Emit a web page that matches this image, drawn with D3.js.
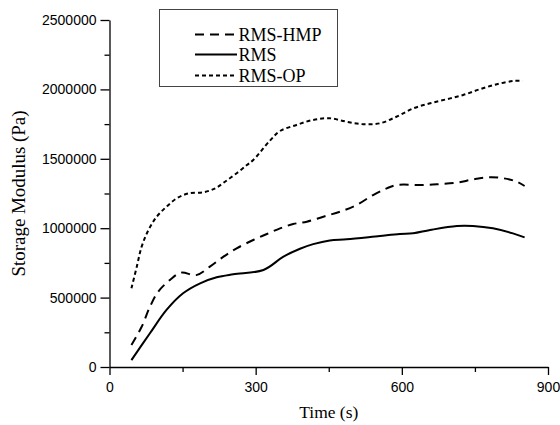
<!DOCTYPE html>
<html>
<head>
<meta charset="utf-8">
<script src="https://cdn.jsdelivr.net/npm/d3@7"></script>
<style>
  html, body { margin: 0; padding: 0; background: #fff; }
  svg { display: block; }
</style>
</head>
<body>
<svg id="chart" width="560" height="425"></svg>
<script>
// ---- data ----
const timeHMP = [45, 66, 83, 100, 124, 147, 178, 206, 234, 261, 295, 323, 350, 377, 405, 439, 473, 507, 541, 569, 589, 644, 678, 713, 747, 781, 808, 836, 852];
const rmsHMP  = [158000, 290000, 434000, 543000, 627000, 680000, 662000, 723000, 795000, 855000, 915000, 958000, 999000, 1030000, 1047000, 1083000, 1119000, 1167000, 1239000, 1287000, 1311000, 1311000, 1318000, 1328000, 1352000, 1367000, 1360000, 1335000, 1304000];

const timeRMS = [45, 83, 117, 151, 186, 220, 254, 316, 357, 391, 418, 452, 487, 555, 596, 623, 658, 713, 746, 787, 828, 852];
const rmsRMS  = [50000, 243000, 411000, 531000, 603000, 646000, 668000, 699000, 795000, 852000, 885000, 912000, 920000, 944000, 958000, 963000, 987000, 1016000, 1016000, 999000, 963000, 934000];

const timeOP = [45, 56, 66, 80, 97, 117, 138, 162, 193, 217, 237, 261, 282, 295, 329, 350, 384, 418, 452, 487, 521, 555, 589, 624, 658, 692, 726, 760, 795, 829, 848];
const rmsOP  = [567000, 723000, 867000, 987000, 1083000, 1155000, 1215000, 1251000, 1259000, 1287000, 1335000, 1396000, 1455000, 1491000, 1630000, 1700000, 1744000, 1780000, 1792000, 1767000, 1749000, 1756000, 1803000, 1864000, 1900000, 1929000, 1960000, 2001000, 2037000, 2061000, 2063000];

const seriesNames = ["RMS-HMP", "RMS", "RMS-OP"];
const xTicks = [0, 300, 600, 900];
const xMinorTicks = [150, 450, 750];
const yTicks = [0, 500000, 1000000, 1500000, 2000000, 2500000];
const yMinorTicks = [250000, 750000, 1250000, 1750000, 2250000];
const xTitle = "Time (s)";
const yTitle = "Storage Modulus (Pa)";

// ---- layout ----
const svg = d3.select("#chart");
const L = 109.5, R = 548, T = 20, B = 367;
const x = d3.scaleLinear().domain([0, 900]).range([L, R]);
const y = d3.scaleLinear().domain([0, 2500000]).range([B, T]);

const styles = [
  { dash: "9,6" },
  { dash: null },
  { dash: "4,3" }
];
const data = [
  d3.zip(timeHMP, rmsHMP),
  d3.zip(timeRMS, rmsRMS),
  d3.zip(timeOP, rmsOP)
];

// ---- axes ----
const tickFont = "'Liberation Sans', Arial, sans-serif";
const serif = "'Liberation Serif', 'Times New Roman', serif";

const xAxis = d3.axisBottom(x).tickValues(xTicks).tickSize(8).tickSizeOuter(0).tickPadding(6).tickFormat(d3.format("d"));
const gx = svg.append("g").attr("transform", `translate(0,${B})`).call(xAxis);
const xMinor = d3.axisBottom(x).tickValues(xMinorTicks).tickSize(5).tickSizeOuter(0).tickFormat("");
const gxm = svg.append("g").attr("transform", `translate(0,${B})`).call(xMinor);
gxm.select(".domain").remove();

const yAxis = d3.axisLeft(y).tickValues(yTicks).tickSize(9).tickSizeOuter(0).tickPadding(4).tickFormat(d3.format("d"));
const gy = svg.append("g").attr("transform", `translate(${L},0)`).call(yAxis);
const yMinor = d3.axisLeft(y).tickValues(yMinorTicks).tickSize(5).tickSizeOuter(0).tickFormat("");
const gym = svg.append("g").attr("transform", `translate(${L},0)`).call(yMinor);
gym.select(".domain").remove();

svg.selectAll(".domain, .tick line").attr("stroke", "#000").attr("stroke-width", 1.3);
svg.selectAll(".tick text").attr("fill", "#000").style("font-family", tickFont).style("font-size", "14px");
gx.selectAll(".tick text").attr("dy", "0.75em");

// ---- titles ----
svg.append("text")
  .attr("x", (L + R) / 2).attr("y", 418)
  .attr("text-anchor", "middle")
  .style("font-family", serif).style("font-size", "17.5px")
  .attr("textLength", 59).attr("lengthAdjust", "spacingAndGlyphs")
  .text(xTitle);

svg.append("text")
  .attr("transform", `translate(25,${(T + B) / 2}) rotate(-90)`)
  .attr("text-anchor", "middle")
  .style("font-family", serif).style("font-size", "18px")
  .attr("textLength", 166).attr("lengthAdjust", "spacingAndGlyphs")
  .text(yTitle);

// ---- lines ----
const line = d3.line().x(d => x(d[0])).y(d => y(d[1])).curve(d3.curveCatmullRom.alpha(0.5));
svg.append("g").selectAll("path").data(data).join("path")
  .attr("d", line)
  .attr("fill", "none")
  .attr("stroke", "#000")
  .attr("stroke-width", 2)
  .attr("stroke-dasharray", (d, i) => styles[i].dash);

// ---- legend ----
const lg = svg.append("g");
lg.append("rect").attr("x", 159.5).attr("y", 9.5).attr("width", 178).attr("height", 77)
  .attr("fill", "#fff").attr("stroke", "#444").attr("stroke-width", 1);
const rowY = [34.5, 54.5, 75.5];
seriesNames.forEach((name, i) => {
  lg.append("line").attr("x1", 195).attr("x2", 237).attr("y1", rowY[i]).attr("y2", rowY[i])
    .attr("stroke", "#000").attr("stroke-width", 2).attr("stroke-dasharray", styles[i].dash);
  lg.append("text").attr("x", 238.5).attr("y", rowY[i] + 6)
    .style("font-family", serif).style("font-size", "18px").attr("fill", "#000")
    .text(name);
});
</script>
</body>
</html>
